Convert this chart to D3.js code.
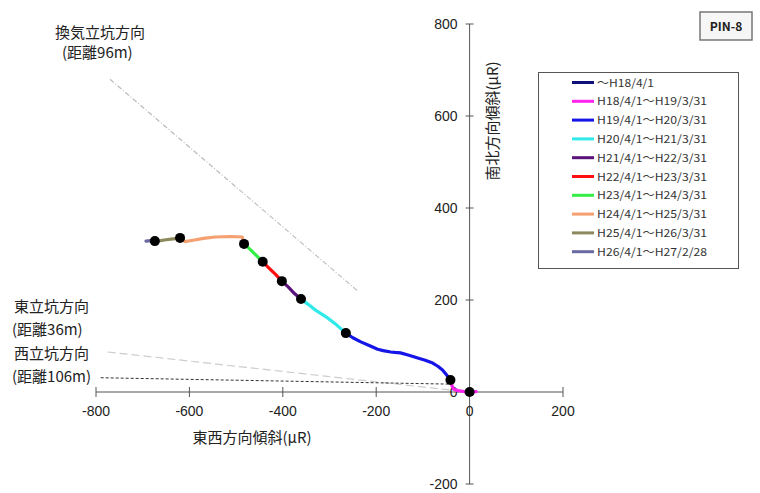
<!DOCTYPE html>
<html><head><meta charset="utf-8">
<script src="https://cdn.jsdelivr.net/npm/d3@7"></script>
<style>
body{margin:0;background:#fff;}
svg{display:block;font-family:"Noto Sans CJK JP","Noto Sans",sans-serif;}
</style></head><body>
<svg id="c" width="760" height="493"></svg>
<script>
// ---- data ----
const xTicks = [-800, -600, -400, -200, 0, 200];
const yTicks = [-200, 0, 200, 400, 600, 800];
const periodLabels = ["～H18/4/1","H18/4/1～H19/3/31","H19/4/1～H20/3/31","H20/4/1～H21/3/31","H21/4/1～H22/3/31","H22/4/1～H23/3/31","H23/4/1～H24/3/31","H24/4/1～H25/3/31","H25/4/1～H26/3/31","H26/4/1～H27/2/28"];
const periodColors = ["#10107a","#ff22ee","#1515e8","#30eaea","#5a137a","#ff1010","#33ee44","#f4a070","#8c8a5c","#6a6aa0"];
// trajectory per period (east-west tilt, north-south tilt) in μR
const p0 = [[6,-4],[3,-2],[0,0]];
const p1 = [[14,1],[0,0],[-12,1],[-25,3],[-34,6],[-38,14],[-41,26]];
const p2 = [[-41,26],[-50,38],[-58,48],[-68,56],[-79,63],[-95,69],[-111,74],[-130,80],[-148,85],[-160,86],[-169,87],[-185,90],[-197,93],[-215,101],[-233,109],[-250,118],[-265,128]];
const p3 = [[-265,128],[-285,146],[-304,161],[-330,178],[-345,190],[-361,202]];
const p4 = [[-361,202],[-375,214],[-388,228],[-402,241]];
const p5 = [[-402,241],[-415,255],[-430,270],[-443,283]];
const p6 = [[-443,283],[-458,298],[-470,310],[-483,322]];
const p7 = [[-483,322],[-487,337],[-510,338],[-545,337],[-570,334],[-592,330],[-610,327],[-620,335]];
const p8 = [[-620,335],[-635,333],[-650,331],[-662,329],[-674,328]];
const p9 = [[-674,328],[-683,329],[-693,328]];
const periodPoints = [p0,p1,p2,p3,p4,p5,p6,p7,p8,p9];
const markerX = [0, -41, -265, -361, -402, -443, -483, -620, -674];
const markerY = [0, 26, 128, 202, 241, 283, 322, 335, 328];
// reference direction lines (from, to)
const guideVent = [[-770, 680], [-240, 220]];
const guideEast = [[-775, 87], [-30, 3]];
const guideWest = [[-790, 31], [-35, 17]];

// ---- chart ----
const svg = d3.select("#c");
const x = d3.scaleLinear().domain([-800, 200]).range([96, 563]);
const y = d3.scaleLinear().domain([-200, 800]).range([484, 24]);
const line = d3.line().x(d => x(d[0])).y(d => y(d[1]));

// guides
svg.append("path").attr("d", line(guideVent)).attr("fill","none")
  .attr("stroke","#bcbcbc").attr("stroke-width",1.2).attr("stroke-dasharray","5,2,1,2");
svg.append("path").attr("d", line(guideEast)).attr("fill","none")
  .attr("stroke","#cccccc").attr("stroke-width",1.2).attr("stroke-dasharray","8,4");
svg.append("path").attr("d", line(guideWest)).attr("fill","none")
  .attr("stroke","#333").attr("stroke-width",1).attr("stroke-dasharray","3,2");

// axes
const ax = svg.append("g").attr("stroke","#555").attr("stroke-width",1);
ax.append("line").attr("x1",x(-800)).attr("x2",x(200)).attr("y1",y(0)).attr("y2",y(0));
ax.append("line").attr("x1",x(0)).attr("x2",x(0)).attr("y1",y(-200)).attr("y2",y(800));
xTicks.forEach(t => ax.append("line").attr("x1",x(t)).attr("x2",x(t)).attr("y1",y(0)-5).attr("y2",y(0)+5));
yTicks.forEach(t => ax.append("line").attr("y1",y(t)).attr("y2",y(t)).attr("x1",x(0)-4).attr("x2",x(0)+4));

const tickFont = "Liberation Sans, Arial, sans-serif";
svg.append("g").selectAll("text").data(xTicks).join("text")
  .attr("x", d => x(d)).attr("y", y(0) + 24).attr("text-anchor","middle")
  .attr("font-family", tickFont).attr("font-size", 14).attr("fill","#222")
  .text(d => d3.format("d")(d).replace("−", "-"));
svg.append("g").selectAll("text").data(yTicks).join("text")
  .attr("x", x(0) - 12).attr("y", d => y(d) + 5).attr("text-anchor","end")
  .attr("font-family", tickFont).attr("font-size", 14).attr("fill","#222")
  .text(d => d3.format("d")(d).replace("−", "-"));

// axis titles
svg.append("text").attr("x", 252).attr("y", 443).attr("text-anchor","middle")
  .attr("font-size", 15).attr("fill","#222").text("東西方向傾斜(μR)");
svg.append("text").attr("transform","translate(498,121) rotate(-90)").attr("text-anchor","middle")
  .attr("font-size", 15).attr("fill","#222").text("南北方向傾斜(μR)");

// trajectory
svg.append("g").selectAll("path").data(periodPoints).join("path")
  .attr("d", d => line(d)).attr("fill","none")
  .attr("stroke", (d,i) => periodColors[i]).attr("stroke-width", 3.2)
  .attr("stroke-linejoin","round").attr("stroke-linecap","round");
svg.append("g").selectAll("circle").data(markerX).join("circle")
  .attr("cx", d => x(d)).attr("cy", (d,i) => y(markerY[i])).attr("r", 5).attr("fill","#000");

// direction labels
const lab = svg.append("g").attr("font-size", 15).attr("fill","#222");
lab.append("text").attr("x", 55).attr("y", 38).text("換気立坑方向");
lab.append("text").attr("x", 62).attr("y", 58).text("(距離96m)");
lab.append("text").attr("x", 14).attr("y", 312).text("東立坑方向");
lab.append("text").attr("x", 12).attr("y", 335).text("(距離36m)");
lab.append("text").attr("x", 14).attr("y", 359).text("西立坑方向");
lab.append("text").attr("x", 12).attr("y", 382).text("(距離106m)");

// legend
const lg = svg.append("g");
lg.append("rect").attr("x",538.5).attr("y",72.5).attr("width",200).attr("height",196)
  .attr("fill","#fff").attr("stroke","#555").attr("stroke-width",1);
const rows = lg.selectAll("g.r").data(periodLabels).join("g").attr("class","r")
  .attr("transform", (d,i) => `translate(0,${82.5 + i*18.8})`);
rows.append("line").attr("x1",572).attr("x2",594).attr("y1",0).attr("y2",0)
  .attr("stroke",(d,i)=>periodColors[i]).attr("stroke-width",3);
rows.append("text").attr("x",597).attr("y",4).attr("font-size",11).attr("fill","#333")
  .attr("textLength", d => d.length > 10 ? 110 : 57).attr("lengthAdjust","spacingAndGlyphs").text(d => d);

// badge
svg.append("rect").attr("x",700).attr("y",12).attr("width",52).attr("height",28)
  .attr("fill","#f6f6f6").attr("stroke","#777").attr("stroke-width",1.5);
svg.append("text").attr("x",726).attr("y",31).attr("text-anchor","middle")
  .attr("font-size",12).attr("font-weight","bold").attr("fill","#222").text("PIN-8");
</script></body></html>
